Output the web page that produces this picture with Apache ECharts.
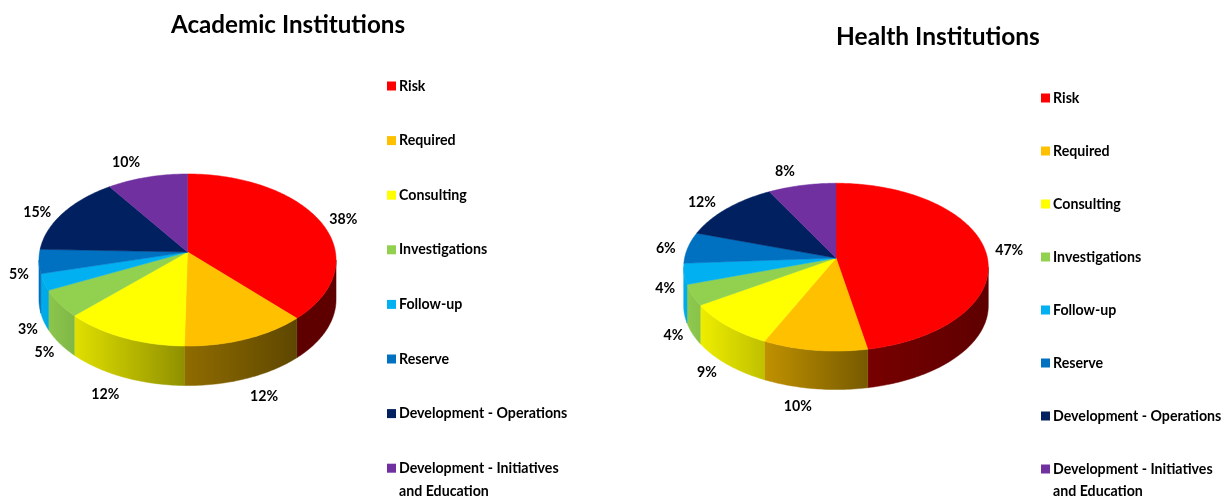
<!DOCTYPE html>
<html>
<head>
<meta charset="utf-8">
<title>Academic and Health Institutions</title>
<style>
  html, body { margin: 0; padding: 0; background: #fff; }
  #main { width: 1223px; height: 498px; }
</style>
<script src="https://cdn.jsdelivr.net/npm/echarts@6/dist/echarts.min.js"></script>
</head>
<body>
<div id="main"></div>
<script>
// data
const categories = ['Risk', 'Required', 'Consulting', 'Investigations', 'Follow-up', 'Reserve',
  'Development - Operations', 'Development - Initiatives'];
const lastLegendLine = 'and Education';
const colors = ['#ff0000', '#ffc000', '#ffff00', '#92d050', '#00b0f0', '#0070c0', '#002060', '#7030a0'];
const academicValues = [37.9, 12.4, 12.4, 5.2, 3.1, 4.5, 14.9, 9.6];
const healthValues = [47, 10, 9, 4, 4, 6, 12, 8];

// label offsets from the middle of each slice's rim
const academicLabelOffsets = [[23, -2], [18, 57], [-18, 57], [-15, 49], [-16, 47], [-20, 13], [-26, 0], [-21, -15]];
const healthLabelOffsets = [[24, 0], [-17, 56], [-20, 47], [-19, 40], [-19, 15], [-22, 1], [-25, -6], [-17, -14]];

// tilted disc: a, b are the radii, k is the perspective, depth is the wall height
const academicPie = { cx: 187.5, cy: 252, a: 147.9, b: 85.3, k: 0.093, depth: 39.5 };
const healthPie = { cx: 836, cy: 258, a: 151.4, b: 82.9, k: 0.109, depth: 38.5 };

const labelFont = 'bold 14.2px Lato, sans-serif';

function rimPoint(pie, deg) {
  const rad = deg * Math.PI / 180;
  const u = Math.sin(rad);
  const v = -Math.cos(rad);
  const d = 1 - pie.k * v;
  return [pie.cx + pie.a * u / d, pie.cy + pie.b * v / d];
}

function rimPoints(pie, from, to) {
  const pts = [];
  const steps = Math.max(2, Math.ceil(to - from));
  for (let i = 0; i <= steps; i++) {
    pts.push(rimPoint(pie, from + (to - from) * i / steps));
  }
  return pts;
}

function shade(color, f) {
  const c = echarts.color.parse(color);
  return 'rgb(' + Math.round(c[0] * f) + ',' + Math.round(c[1] * f) + ',' + Math.round(c[2] * f) + ')';
}

function wallShade(pie, x) {
  const halfWidth = pie.a / Math.sqrt(1 - pie.k * pie.k);
  const t = (x - pie.cx + halfWidth) / (2 * halfWidth);
  return Math.max(0.37, 0.98 - 0.85 * t);
}

function makeRenderItem(pie, color, offset) {
  return function (params, api) {
    const start = api.value(0) * 3.6;
    const end = (api.value(0) + api.value(1)) * 3.6;
    const children = [];

    // side wall, only the part facing the viewer
    const phi = Math.acos(pie.k) * 180 / Math.PI;
    const wallFrom = Math.max(start, 180 - phi);
    const wallTo = Math.min(end, 180 + phi);
    if (wallTo > wallFrom) {
      const rim = rimPoints(pie, wallFrom, wallTo);
      const low = rim.map(p => [p[0], p[1] + pie.depth]).reverse();
      const xs = rim.map(p => p[0]);
      const x0 = Math.min.apply(null, xs);
      const x1 = Math.max.apply(null, xs);
      const fill = new echarts.graphic.LinearGradient(x0, 0, x1, 0, [
        { offset: 0, color: shade(color, wallShade(pie, x0)) },
        { offset: 1, color: shade(color, wallShade(pie, x1)) }
      ], true);
      children.push({
        type: 'polygon',
        shape: { points: rim.concat(low) },
        style: { fill: fill, stroke: fill, lineWidth: 0.5 }
      });
    }

    // top face
    children.push({
      type: 'polygon',
      shape: { points: [[pie.cx, pie.cy]].concat(rimPoints(pie, start, end)) },
      style: { fill: color, stroke: color, lineWidth: 0.5 }
    });

    // percent label
    const mid = rimPoint(pie, (start + end) / 2);
    children.push({
      type: 'text',
      style: {
        text: Math.round(api.value(1)) + '%',
        x: mid[0] + offset[0],
        y: mid[1] + offset[1],
        align: 'center',
        verticalAlign: 'middle',
        font: labelFont,
        fill: '#000'
      }
    });
    return { type: 'group', children: children };
  };
}

function pieSeries(values, pie, offsets) {
  let sum = 0;
  return values.map(function (value, i) {
    const s = {
      type: 'custom',
      name: categories[i],
      coordinateSystem: 'none',
      silent: true,
      animation: false,
      itemStyle: { color: colors[i] },
      renderItem: makeRenderItem(pie, colors[i], offsets[i]),
      data: [[sum, value]]
    };
    sum += value;
    return s;
  });
}

function legendAt(left, top, gap) {
  return {
    orient: 'vertical',
    left: left,
    top: top,
    data: categories,
    icon: 'rect',
    itemWidth: 9,
    itemHeight: 9,
    itemGap: gap,
    padding: 0,
    selectedMode: false,
    textStyle: { fontFamily: 'Lato', fontWeight: 'bold', fontSize: 14.2, lineHeight: 16, color: '#000', padding: [0, 0, 0, -2] }
  };
}

function legendTail(x, y) {
  return {
    type: 'text',
    x: x,
    y: y,
    style: { text: lastLegendLine, font: labelFont, fill: '#000', verticalAlign: 'middle' }
  };
}

const chart = echarts.init(document.getElementById('main'), null, { renderer: 'canvas' });
chart.setOption({
  backgroundColor: '#fff',
  animation: false,
  title: [
    { text: 'Academic Institutions', left: 283, top: 8, textAlign: 'center',
      textStyle: { fontFamily: 'Lato', fontWeight: 'bold', fontSize: 24.2, color: '#000' } },
    { text: 'Health Institutions', left: 933, top: 20, textAlign: 'center',
      textStyle: { fontFamily: 'Lato', fontWeight: 'bold', fontSize: 24.5, color: '#000' } }
  ],
  legend: [legendAt(387, 78, 38.6), legendAt(1041, 90, 37)],
  graphic: [legendTail(399, 491), legendTail(1053, 491)],
  series: pieSeries(academicValues, academicPie, academicLabelOffsets)
    .concat(pieSeries(healthValues, healthPie, healthLabelOffsets))
});
</script>
</body>
</html>
